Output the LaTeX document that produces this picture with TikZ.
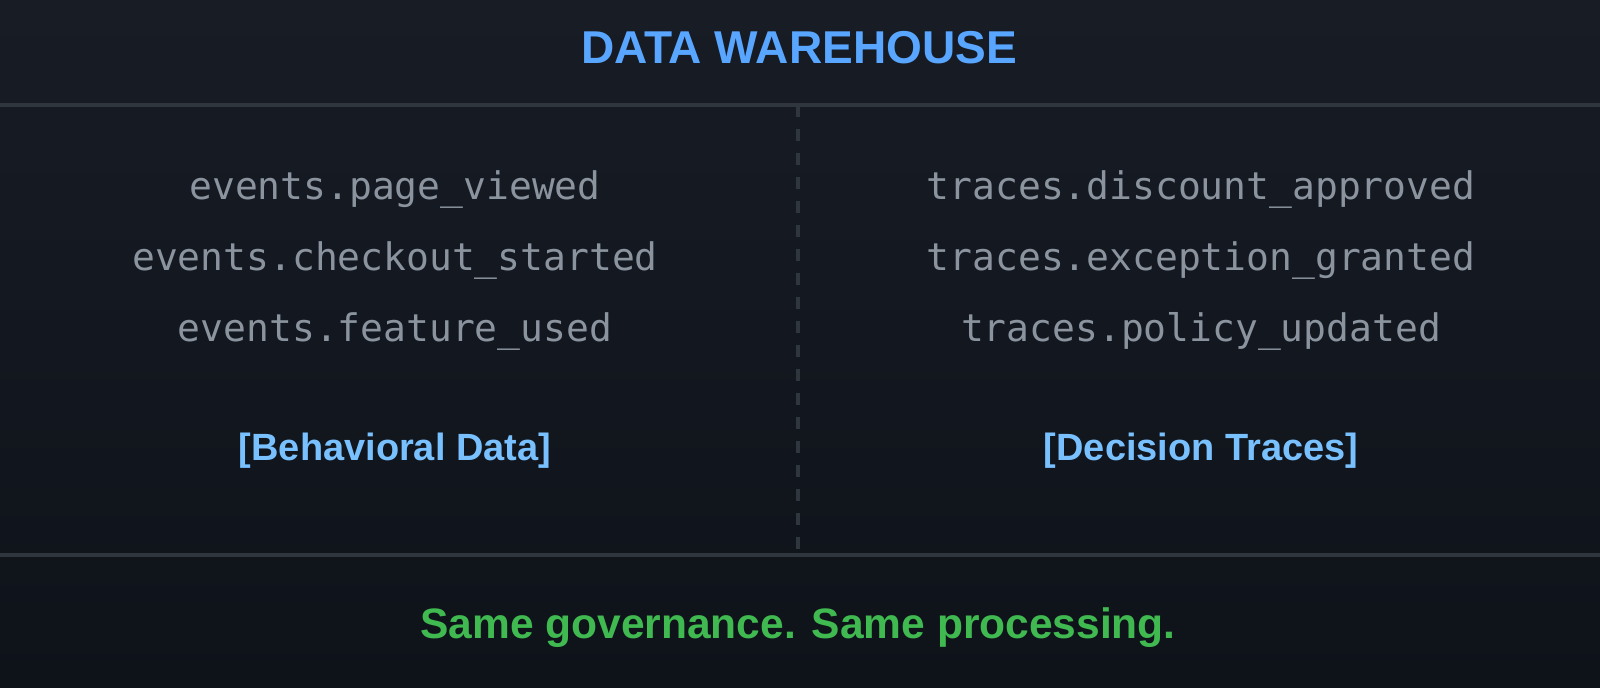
\documentclass[tikz,border=0pt]{standalone}
\usepackage{fontspec}
\setmainfont{Liberation Sans}
\setmonofont{DejaVu Sans Mono}
\usetikzlibrary{positioning}

\definecolor{bgtop}{HTML}{181C25}
\definecolor{bgbot}{HTML}{0E1219}
\definecolor{rule}{HTML}{30363D}
\definecolor{titleblue}{HTML}{58A6FF}
\definecolor{tagblue}{HTML}{79C0FF}
\definecolor{evgray}{HTML}{8B949E}
\definecolor{okgreen}{HTML}{3FB950}

\begin{document}
\begin{tikzpicture}[node distance={0.71cm}, inner sep=0pt,
    title/.style = {anchor=base, text=titleblue, font=\fontsize{13.1pt}{15pt}\selectfont\bfseries},
    evt/.style = {text=evgray, text height=0.30cm, text depth=0.08cm, font=\fontsize{10.8pt}{13pt}\selectfont\ttfamily},
    tag/.style = {anchor=base, text=tagblue, font=\fontsize{10.8pt}{13pt}\selectfont\bfseries},
    foot/.style = {anchor=base, text=okgreen, font=\fontsize{12.1pt}{14pt}\selectfont\bfseries},
    rulesep/.style = {draw=rule, line width=1.14pt}]
      \useasboundingbox (0,0) rectangle (16,-6.88);
      \shade[top color=bgtop, bottom color=bgbot] (0,0) rectangle (16,-6.88);

      \coordinate (hl) at (0,-1.05);
      \coordinate (hr) at (16,-1.05);
      \coordinate (fl) at (0,-5.555);
      \coordinate (fr) at (16,-5.555);
      \coordinate (divtop) at (7.98,-1.05);
      \coordinate (divbot) at (7.98,-5.50);

      \draw[rulesep] (hl) -- (hr);
      \draw[rulesep] (fl) -- (fr);
      \draw[draw=rule, line width=1.05pt, dash pattern=on 0.12cm off 0.12cm] (divtop) -- (divbot);

      \node[title](wh) at (7.99,-0.635) {DATA WAREHOUSE};

      \node[evt](e1) at (3.95,-1.89) {events.page\_viewed};
      \node[evt](e2) [below of=e1] {events.checkout\_started};
      \node[evt](e3) [below of=e2] {events.feature\_used};

      \node[evt](t1) at (12.01,-1.89) {traces.discount\_approved};
      \node[evt](t2) [below of=t1] {traces.exception\_granted};
      \node[evt](t3) [below of=t2] {traces.policy\_updated};

      \node[tag](bd) at (3.95,-4.61) {[Behavioral Data]};
      \node[tag](dt) at (12.01,-4.61) {[Decision Traces]};

      \node[foot](gov) at (7.98,-6.39) {Same governance. Same processing.};
    \end{tikzpicture}
\end{document}
